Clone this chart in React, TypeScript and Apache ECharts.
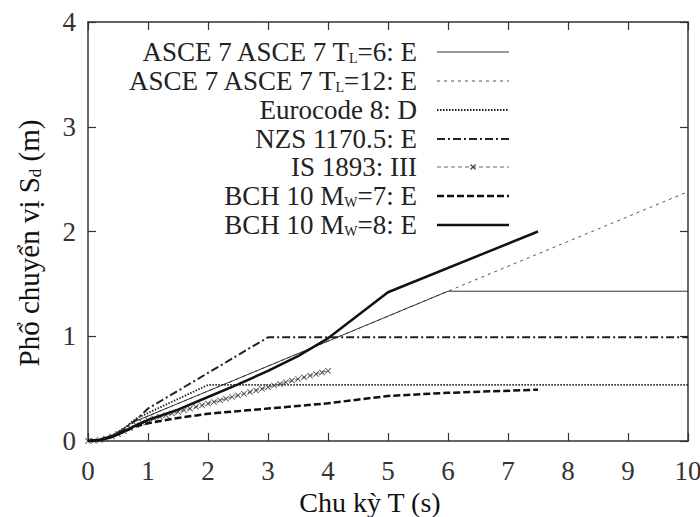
import React, { useEffect, useRef } from "react";
import * as echarts from "echarts";

const F = "'Liberation Serif', 'DejaVu Serif', serif";

// ASCE 7, T_L = 6 s, site class E
const asce6T = [0, 0.2, 0.4, 0.6, 0.7, 6, 10];
const asce6Sd = [0, 0.014, 0.054, 0.12, 0.167, 1.43, 1.43];
// ASCE 7, T_L = 12 s
const asce12T = [0, 0.2, 0.4, 0.6, 0.7, 6, 10];
const asce12Sd = [0, 0.014, 0.054, 0.12, 0.167, 1.43, 2.38];
// Eurocode 8, soil D
const ecT = [0, 0.2, 0.4, 0.6, 0.8, 2, 10];
const ecSd = [0, 0.013, 0.054, 0.12, 0.214, 0.535, 0.535];
// NZS 1170.5, class E
const nzsT = [0, 0.2, 0.4, 0.6, 0.8, 1, 3, 10];
const nzsSd = [0, 0.01, 0.045, 0.11, 0.2, 0.31, 0.99, 0.99];
// IS 1893, soil III
const isT = [0, 0.1, 0.2, 0.3, 0.4, 0.5, 0.6, 0.7, 0.8, 0.9, 1.0, 1.1, 1.2, 1.3, 1.4, 1.5, 1.6, 1.7, 1.8, 1.9, 2.0, 2.1, 2.2, 2.3, 2.4, 2.5, 2.6, 2.7, 2.8, 2.9, 3.0, 3.1, 3.2, 3.3, 3.4, 3.5, 3.6, 3.7, 3.8, 3.9, 4.0];
const isSd = [0, 0.003, 0.01, 0.023, 0.042, 0.065, 0.093, 0.125, 0.153, 0.177, 0.2, 0.216, 0.231, 0.247, 0.263, 0.278, 0.294, 0.31, 0.326, 0.341, 0.357, 0.373, 0.388, 0.404, 0.42, 0.435, 0.451, 0.467, 0.483, 0.498, 0.514, 0.53, 0.545, 0.561, 0.577, 0.592, 0.608, 0.624, 0.639, 0.655, 0.67];
// BCH 10, Mw = 7
const bch7T = [0, 0.2, 0.4, 0.6, 0.8, 1, 1.5, 2, 3, 4, 5, 6, 7.5];
const bch7Sd = [0, 0.01, 0.04, 0.09, 0.14, 0.17, 0.22, 0.26, 0.31, 0.36, 0.43, 0.46, 0.49];
// BCH 10, Mw = 8
const bch8T = [0, 0.2, 0.4, 0.6, 0.8, 1, 1.5, 2, 2.5, 3, 3.5, 4, 5, 7.5];
const bch8Sd = [0, 0.01, 0.04, 0.09, 0.15, 0.2, 0.3, 0.42, 0.54, 0.67, 0.81, 0.98, 1.42, 2.0];

const xTicksMax = 10;
const yTicksMax = 4;

const xTitle = "Chu kỳ T (s)";
const yTitleRich = "{a|Phổ chuyển vị S}{b|d}{a| (m)}";

const names = [
  "ASCE 7 ASCE 7 TL=6: E",
  "ASCE 7 ASCE 7 TL=12: E",
  "Eurocode 8: D",
  "NZS 1170.5: E",
  "IS 1893: III",
  "BCH 10 MW=7: E",
  "BCH 10 MW=8: E",
];
const labelsRich = [
  "{n|ASCE 7 ASCE 7 T}{s|L}{n|=6: E}",
  "{n|ASCE 7 ASCE 7 T}{s|L}{n|=12: E}",
  "{n|Eurocode 8: D}",
  "{n|NZS 1170.5: E}",
  "{n|IS 1893: III}",
  "{n|BCH 10 M}{s|W}{n|=7: E}",
  "{n|BCH 10 M}{s|W}{n|=8: E}",
];

type LS = { color: string; width: number; dash: number[] | null };
const styles: LS[] = [
  { color: "#333", width: 1, dash: null },
  { color: "#555", width: 1, dash: [3, 4] },
  { color: "#222", width: 1.8, dash: [1.5, 1.5] },
  { color: "#222", width: 2, dash: [8, 3, 2, 3] },
  { color: "#666", width: 1, dash: [4, 3] },
  { color: "#111", width: 2.5, dash: [7, 3] },
  { color: "#111", width: 2.5, dash: null },
];

const zip = (a: number[], b: number[]) => a.map((v, i) => [v, b[i]]);
const xPath = "path://M0,1L1,0L5,4L9,0L10,1L6,5L10,9L9,10L5,6L1,10L0,9L4,5Z";

export default function App() {
  const ref = useRef<HTMLDivElement>(null);
  useEffect(() => {
    if (!ref.current) return;
    const chart = echarts.init(ref.current, null, { renderer: "svg" });
    const axisLine = { show: true, onZero: false, lineStyle: { color: "#333", width: 1.5 } };
    const axisTick = { show: true, inside: true, length: 8, lineStyle: { color: "#333", width: 1.2 } };

    const legendX1 = 437, legendX2 = 509, textRight = 417;
    const rowY = [52, 81, 110, 139, 167, 196, 225];
    const rich = {
      n: { fontSize: 27, fontFamily: F, fill: "#222", lineHeight: 26 },
      s: { fontSize: 14, fontFamily: F, fill: "#222", lineHeight: 14, padding: [12, 0, 0, 0] },
    };
    const graphics: any[] = [];
    names.forEach((_, i) => {
      graphics.push({
        type: "text",
        x: textRight,
        y: rowY[i],
        silent: true,
        style: {
          text: labelsRich[i],
          align: "right",
          verticalAlign: "middle",
          fontSize: 27,
          fontFamily: F,
          fill: "#222",
          rich,
        },
      });
      const st = styles[i];
      graphics.push({
        type: "line",
        silent: true,
        shape: { x1: legendX1, y1: rowY[i], x2: legendX2, y2: rowY[i] },
        style: { stroke: st.color, lineWidth: st.width, lineDash: st.dash || undefined },
      });
    });
    const mx = (legendX1 + legendX2) / 2, my = rowY[4];
    graphics.push({ type: "line", silent: true, shape: { x1: mx - 2.5, y1: my - 2.5, x2: mx + 2.5, y2: my + 2.5 }, style: { stroke: "#444", lineWidth: 1.2 } });
    graphics.push({ type: "line", silent: true, shape: { x1: mx - 2.5, y1: my + 2.5, x2: mx + 2.5, y2: my - 2.5 }, style: { stroke: "#444", lineWidth: 1.2 } });

    // axis titles
    graphics.push({
      type: "text", x: 370, y: 502, silent: true,
      style: { text: xTitle, align: "center", verticalAlign: "middle", fontSize: 28, fontFamily: F, fill: "#111" },
    });
    graphics.push({
      type: "text", x: 29, y: 243, rotation: Math.PI / 2, silent: true,
      style: {
        text: yTitleRich, align: "center", verticalAlign: "middle", fontSize: 29, fontFamily: F, fill: "#111",
        rich: {
          a: { fontSize: 29, fontFamily: F, fill: "#111", lineHeight: 30 },
          b: { fontSize: 17, fontFamily: F, fill: "#111", lineHeight: 16, padding: [12, 0, 0, 0] },
        },
      },
    });

    const lineOf = (i: number) => ({
      color: styles[i].color,
      width: styles[i].width,
      type: styles[i].dash ? styles[i].dash : "solid",
    });
    const base = (i: number, data: number[][], z: number) => ({
      name: names[i],
      type: "line",
      data,
      showSymbol: false,
      symbol: "none",
      z,
      lineStyle: lineOf(i),
      itemStyle: { color: styles[i].color },
    });

    chart.setOption({
      animation: false,
      grid: { left: 88, right: 12, top: 22, bottom: 76, containLabel: false, outerBoundsMode: "none" },
      xAxis: [
        {
          type: "value", min: 0, max: xTicksMax, interval: 1, axisLine, axisTick,
          splitLine: { show: false },
          axisLabel: { fontSize: 27, fontFamily: F, color: "#333", margin: 16 },
        },
        {
          type: "value", position: "top", min: 0, max: xTicksMax, interval: 1, axisLine, axisTick,
          splitLine: { show: false }, axisLabel: { show: false },
        },
      ],
      yAxis: [
        {
          type: "value", min: 0, max: yTicksMax, interval: 1, axisLine, axisTick,
          splitLine: { show: false },
          axisLabel: { fontSize: 27, fontFamily: F, color: "#333", margin: 12 },
        },
        {
          type: "value", position: "right", min: 0, max: yTicksMax, interval: 1, axisLine, axisTick,
          splitLine: { show: false }, axisLabel: { show: false },
        },
      ],
      graphic: graphics,
      series: [
        base(1, zip(asce12T, asce12Sd), 2),
        base(0, zip(asce6T, asce6Sd), 3),
        base(2, zip(ecT, ecSd), 3),
        base(3, zip(nzsT, nzsSd), 3),
        {
          name: names[4], type: "line", data: zip(isT, isSd), z: 3,
          symbol: xPath, symbolSize: 6, showSymbol: true,
          itemStyle: { color: "#444" },
          lineStyle: lineOf(4),
        },
        base(5, zip(bch7T, bch7Sd), 4),
        base(6, zip(bch8T, bch8Sd), 4),
      ],
    });
    return () => chart.dispose();
  }, []);
  return <div ref={ref} style={{ width: 700, height: 517, position: "absolute", left: 0, top: 0 }} />;
}
